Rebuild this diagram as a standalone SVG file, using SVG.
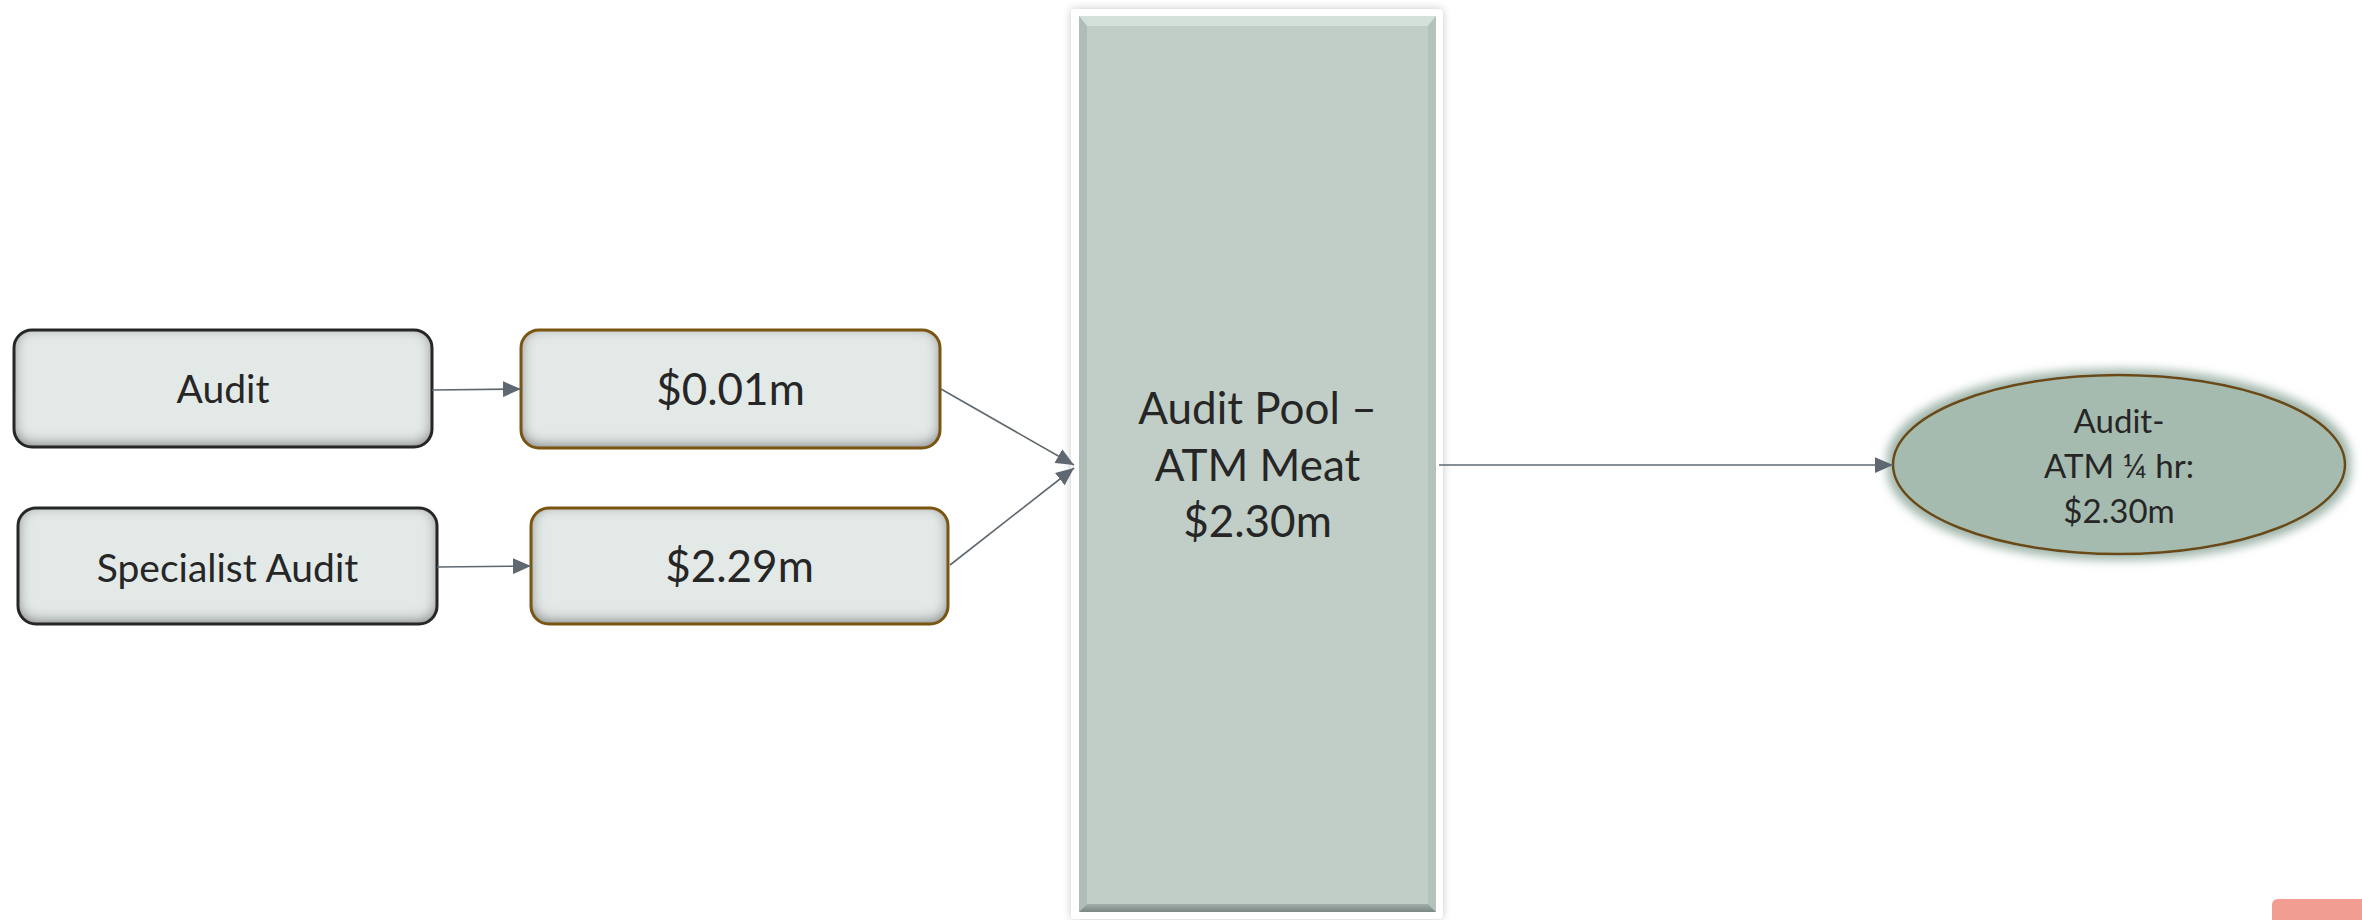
<svg xmlns="http://www.w3.org/2000/svg" width="2362" height="920" viewBox="0 0 2362 920">
  <defs>
    <style>
      .box { fill: #E3E9E7; }
      .bdark { fill: none; stroke: #262626; stroke-width: 3; }
      .bbrown { fill: none; stroke: #7A5512; stroke-width: 3; }
      .t { font-family: Lato, "Liberation Sans", sans-serif; fill: #262626; text-anchor: middle; }
      .conn { stroke: #5F6870; stroke-width: 1.6; fill: none; marker-end: url(#arr); }
    </style>
    <marker id="arr" markerUnits="userSpaceOnUse" markerWidth="18" markerHeight="16" viewBox="0 0 16 14" refX="16" refY="7" orient="auto">
      <path d="M0,0 L16,7 L0,14 z" fill="#5F6870"/>
    </marker>
    <filter id="inset" x="-5%" y="-15%" width="110%" height="130%">
      <feFlood flood-color="#000" flood-opacity="0.85" result="f"/>
      <feComposite in="f" in2="SourceAlpha" operator="out" result="outside"/>
      <feOffset in="outside" dy="-3" result="off"/>
      <feGaussianBlur in="off" stdDeviation="7" result="blur"/>
      <feComposite in="blur" in2="SourceAlpha" operator="in" result="shadow"/>
      <feMerge><feMergeNode in="SourceGraphic"/><feMergeNode in="shadow"/></feMerge>
    </filter>
    <filter id="glow" x="-10%" y="-25%" width="120%" height="150%">
      <feMorphology in="SourceAlpha" operator="dilate" radius="5" result="d"/>
      <feGaussianBlur in="d" stdDeviation="5" result="b"/>
      <feFlood flood-color="#97AFA2" flood-opacity="0.9"/>
      <feComposite in2="b" operator="in" result="g"/>
      <feMerge><feMergeNode in="g"/><feMergeNode in="SourceGraphic"/></feMerge>
    </filter>
    <filter id="pshadow" x="-10%" y="-5%" width="120%" height="110%">
      <feGaussianBlur in="SourceAlpha" stdDeviation="4" result="b"/>
      <feFlood flood-color="#000" flood-opacity="0.22"/>
      <feComposite in2="b" operator="in" result="s"/>
      <feMerge><feMergeNode in="s"/><feMergeNode in="SourceGraphic"/></feMerge>
    </filter>
    <linearGradient id="botbev" x1="0" y1="0" x2="0" y2="1">
      <stop offset="0" stop-color="#A2B0AA"/>
      <stop offset="1" stop-color="#7A8681"/>
    </linearGradient>
  </defs>

  <g id="audit">
    <rect class="box" x="14" y="330" width="418" height="117" rx="18" filter="url(#inset)"/>
    <rect class="bdark" x="14" y="330" width="418" height="117" rx="18"/>
    <text class="t" x="223" y="403" font-size="39">Audit</text>
  </g>

  <g id="value-audit">
    <rect class="box" x="521" y="330" width="419" height="118" rx="18" filter="url(#inset)"/>
    <rect class="bbrown" x="521" y="330" width="419" height="118" rx="18"/>
    <text class="t" x="730.5" y="405" font-size="44">$0.01m</text>
  </g>

  <g id="specialist-audit">
    <rect class="box" x="18" y="508" width="419" height="116" rx="18" filter="url(#inset)"/>
    <rect class="bdark" x="18" y="508" width="419" height="116" rx="18"/>
    <text class="t" x="227.5" y="582" font-size="39">Specialist Audit</text>
  </g>

  <g id="value-specialist">
    <rect class="box" x="531" y="508" width="417" height="116" rx="18" filter="url(#inset)"/>
    <rect class="bbrown" x="531" y="508" width="417" height="116" rx="18"/>
    <text class="t" x="739.5" y="582" font-size="44">$2.29m</text>
  </g>

  <g id="audit-pool">
    <rect x="1071" y="9" width="372" height="910" rx="4" fill="#FFFFFF" filter="url(#pshadow)"/>
    <rect x="1079" y="16" width="357" height="896" fill="#C0CEC7"/>
    <polygon points="1079,16 1436,16 1428,26 1087,26" fill="#D4E0DA"/>
    <polygon points="1079,16 1087,26 1087,904 1079,912" fill="#AEBEB7"/>
    <polygon points="1436,16 1428,26 1428,904 1436,912" fill="#B3C2BB"/>
    <polygon points="1079,912 1436,912 1428,904 1087,904" fill="url(#botbev)"/>
    <text class="t" x="1257.5" y="424" font-size="44">Audit Pool –</text>
    <text class="t" x="1257.5" y="481" font-size="44">ATM Meat</text>
    <text class="t" x="1257.5" y="537" font-size="44">$2.30m</text>
  </g>

  <g id="result-ellipse">
    <ellipse cx="2119" cy="464.5" rx="226" ry="89.5" fill="#A5BBAF" stroke="#6B4A12" stroke-width="2.5" filter="url(#glow)"/>
    <text class="t" x="2119" y="433" font-size="33">Audit-</text>
    <text class="t" x="2119" y="478" font-size="33">ATM ¼ hr:</text>
    <text class="t" x="2119" y="523" font-size="33">$2.30m</text>
  </g>

  <g id="connectors">
    <line class="conn" x1="432" y1="390" x2="521" y2="389"/>
    <line class="conn" x1="437" y1="567" x2="531" y2="566"/>
    <line class="conn" x1="941" y1="389" x2="1074" y2="465"/>
    <line class="conn" x1="950" y1="565" x2="1074" y2="468"/>
    <line class="conn" x1="1439" y1="465" x2="1893" y2="465"/>
  </g>

  <path id="corner-tab" d="M2278,899 H2362 V920 H2272 V905 Q2272,899 2278,899 z" fill="#F29D92"/>
</svg>
